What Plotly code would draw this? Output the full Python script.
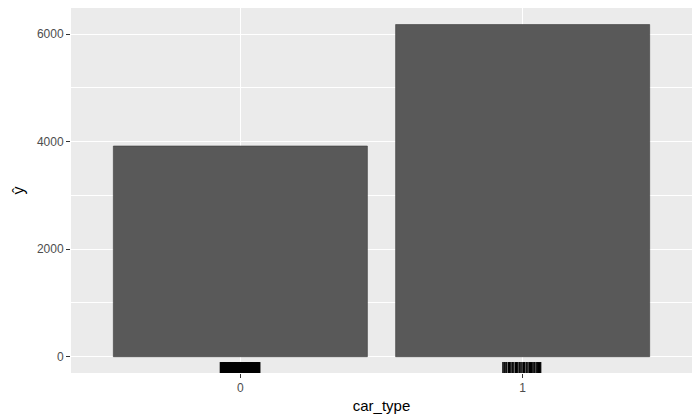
import plotly.graph_objects as go

# bar data
car_type = [0, 1]
car_type_labels = ["0", "1"]
y_values = [3920, 6180]

# rug marks (jittered car_type values)
rug_0 = [-0.070, -0.067, -0.064, -0.061, -0.058, -0.055, -0.052, -0.049, -0.046,
         -0.043, -0.040, -0.037, -0.034, -0.031, -0.028, -0.025, -0.022, -0.019,
         -0.016, -0.013, -0.010, -0.007, -0.004, -0.001, 0.002, 0.005, 0.008,
         0.011, 0.014, 0.017, 0.020, 0.023, 0.026, 0.029, 0.032, 0.035, 0.038,
         0.041, 0.044, 0.047, 0.050, 0.053, 0.056, 0.059, 0.062, 0.065, 0.068]
rug_1 = [0.930, 0.934, 0.937, 0.941, 0.944, 0.950, 0.953, 0.956, 0.962, 0.965,
         0.969, 0.975, 0.978, 0.981, 0.987, 0.990, 0.994, 0.998, 1.003, 1.006,
         1.012, 1.015, 1.019, 1.024, 1.028, 1.031, 1.036, 1.040, 1.043, 1.048,
         1.052, 1.056, 1.060, 1.064]


def rug_lines(values):
    xs, ys = [], []
    for v in values:
        xs += [v, v, None]
        ys += [0, 0.03, None]
    return xs, ys


fig = go.Figure()

fig.add_trace(go.Bar(
    x=car_type, y=y_values, width=0.9,
    marker=dict(color="#595959", line=dict(color="#3a3a3a", width=0.6)),
    showlegend=False,
))

# rugs drawn on an overlaid 0..1 axis, 3% of the panel height
for values, lw in [(rug_0, 1.8), (rug_1, 1.3)]:
    rx, ry = rug_lines(values)
    fig.add_trace(go.Scatter(
        x=rx, y=ry, yaxis="y2", mode="lines",
        line=dict(color="black", width=lw), showlegend=False, hoverinfo="skip",
    ))

font = "Liberation Sans, Arial, Helvetica, sans-serif"

# page body adds an 8px offset, so the figure is 8px smaller than the window
fig.update_layout(
    width=692, height=412,
    margin=dict(l=63, r=8, t=0, b=47, autoexpand=False),
    paper_bgcolor="white",
    plot_bgcolor="#EBEBEB",
    font=dict(family=font, color="#4D4D4D", size=12),
    xaxis=dict(
        range=[-0.6, 1.6], tickvals=car_type, ticktext=car_type_labels,
        showgrid=True, gridcolor="white", gridwidth=1.1, zeroline=False,
        ticks="outside", ticklen=4, tickcolor="#333333", tickwidth=1.1,
        tickfont=dict(size=12, color="#4D4D4D"), automargin=False,
        title=dict(text="car_type", font=dict(size=15, color="black"), standoff=6),
    ),
    yaxis=dict(
        range=[-303, 6488], tickvals=[0, 2000, 4000, 6000],
        showgrid=True, gridcolor="white", gridwidth=1.1, zeroline=False,
        minor=dict(tickvals=[1000, 3000, 5000], showgrid=True,
                   gridcolor="white", gridwidth=0.5, ticks=""),
        ticks="outside", ticklen=4, tickcolor="#333333", tickwidth=1.1,
        tickfont=dict(size=12, color="#4D4D4D"), automargin=False,
        title=dict(text="ŷ", font=dict(size=16, color="black"), standoff=8),
    ),
    yaxis2=dict(
        overlaying="y", range=[0, 1], visible=False, fixedrange=True,
        automargin=False,
    ),
)

fig.write_html("out.html")
